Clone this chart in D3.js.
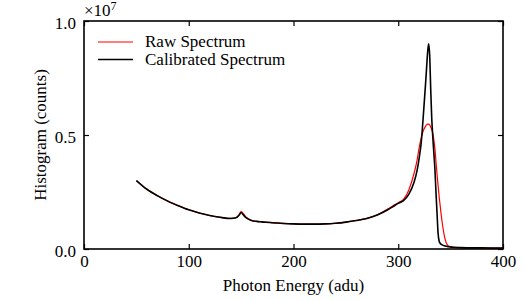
<!DOCTYPE html>
<html>
<head>
<meta charset="utf-8">
<script src="https://cdn.jsdelivr.net/npm/d3@7"></script>
<style>
  body { margin: 0; background: #fff; }
</style>
</head>
<body>
<svg id="chart" width="525" height="300"></svg>
<script>
// photon energy samples (adu)
const energies = [50, 60, 70, 80, 90, 100, 110, 120, 130, 140, 145, 148, 150, 152, 155, 160, 165, 170,
  180, 190, 200, 210, 220, 230, 240, 250, 260, 270, 280, 290, 295, 300, 305, 310, 315, 318, 320, 322,
  324, 326, 327, 328, 329, 330, 331, 332, 333, 334, 335, 336, 337, 338, 339, 340, 342, 344, 346, 348,
  352, 360, 370, 380, 390, 400];

// counts in units of 1e7
const rawCounts = [0.300, 0.262, 0.234, 0.210, 0.190, 0.172, 0.158, 0.147, 0.139, 0.134, 0.137, 0.150,
  0.164, 0.156, 0.138, 0.125, 0.121, 0.119, 0.115, 0.112, 0.110, 0.109, 0.109, 0.110, 0.113, 0.118,
  0.125, 0.134, 0.150, 0.175, 0.190, 0.203, 0.218, 0.258, 0.330, 0.390, 0.445, 0.490, 0.520, 0.538,
  0.544, 0.548, 0.548, 0.544, 0.535, 0.524, 0.508, 0.478, 0.440, 0.385, 0.330, 0.280, 0.232, 0.190,
  0.115, 0.058, 0.025, 0.013, 0.008, 0.006, 0.005, 0.005, 0.004, 0.004];

const calCounts = [0.300, 0.262, 0.234, 0.210, 0.190, 0.172, 0.158, 0.147, 0.139, 0.134, 0.137, 0.148,
  0.160, 0.150, 0.136, 0.125, 0.121, 0.119, 0.115, 0.112, 0.110, 0.109, 0.109, 0.110, 0.113, 0.118,
  0.125, 0.134, 0.149, 0.172, 0.186, 0.200, 0.212, 0.240, 0.292, 0.345, 0.400, 0.470, 0.590, 0.720,
  0.790, 0.860, 0.900, 0.850, 0.700, 0.570, 0.490, 0.420, 0.350, 0.250, 0.160, 0.070, 0.035, 0.025,
  0.018, 0.014, 0.012, 0.010, 0.008, 0.006, 0.005, 0.005, 0.004, 0.004];

const xTicks = [0, 100, 200, 300, 400];
const yTicks = [0.0, 0.5, 1.0];

const series = [
  { name: 'Raw Spectrum', values: rawCounts, color: '#ff0000', width: 1.2 },
  { name: 'Calibrated Spectrum', values: calCounts, color: '#000000', width: 1.6 }
];

const FONT = '"Liberation Serif", "Times New Roman", Times, serif';
const FONT_SIZE = '17px';

const Chart = {};

Chart.setup = {
  initConst: function() {
    Chart.margin = { left: 84, top: 21, right: 22, bottom: 51 };
    Chart.width = 525 - Chart.margin.left - Chart.margin.right;
    Chart.height = 300 - Chart.margin.top - Chart.margin.bottom;
  },

  initScales: function() {
    Chart.x = d3.scaleLinear().domain([0, 400]).range([0, Chart.width]);
    Chart.y = d3.scaleLinear().domain([0, 1]).range([Chart.height, 0]);
  }
};

Chart.core = {
  draw: function() {
    const svg = d3.select('#chart');
    const g = svg.append('g')
      .attr('transform', `translate(${Chart.margin.left},${Chart.margin.top})`);

    // lines
    series.forEach(function(s) {
      const line = d3.line()
        .x((d, i) => Chart.x(energies[i]))
        .y(d => Chart.y(d))
        .curve(d3.curveMonotoneX);
      g.append('path')
        .datum(s.values)
        .attr('fill', 'none')
        .attr('stroke', s.color)
        .attr('stroke-width', s.width)
        .attr('d', line);
    });

    // axes with inward ticks
    const tickLen = 5;
    const xBottom = d3.axisBottom(Chart.x).tickValues(xTicks).tickSizeInner(-tickLen).tickSizeOuter(0)
      .tickPadding(6).tickFormat(d3.format('d'));
    const xTop = d3.axisTop(Chart.x).tickValues(xTicks).tickSizeInner(-tickLen).tickSizeOuter(0)
      .tickFormat('');
    const yLeft = d3.axisLeft(Chart.y).tickValues(yTicks).tickSizeInner(-tickLen).tickSizeOuter(0)
      .tickPadding(8).tickFormat(d3.format('.1f'));
    const yRight = d3.axisRight(Chart.y).tickValues(yTicks).tickSizeInner(-tickLen).tickSizeOuter(0)
      .tickFormat('');

    const axes = [
      g.append('g').attr('transform', `translate(0,${Chart.height})`).call(xBottom),
      g.append('g').call(xTop),
      g.append('g').call(yLeft),
      g.append('g').attr('transform', `translate(${Chart.width},0)`).call(yRight)
    ];
    axes.forEach(function(a) {
      a.attr('font-family', FONT).attr('font-size', FONT_SIZE);
      a.select('.domain').remove();
      a.selectAll('line').attr('stroke', '#000').attr('stroke-width', 1.2);
      a.selectAll('text').attr('fill', '#000');
    });
    axes[2].selectAll('text').attr('dy', '0.45em');

    // frame
    g.append('rect')
      .attr('width', Chart.width)
      .attr('height', Chart.height)
      .attr('fill', 'none')
      .attr('stroke', '#000')
      .attr('stroke-width', 1.6);

    // multiplier
    const mult = svg.append('text')
      .attr('x', Chart.margin.left)
      .attr('y', 16)
      .attr('font-family', FONT)
      .attr('font-size', FONT_SIZE);
    mult.append('tspan').text('\u00d710');
    mult.append('tspan').attr('dy', -6).attr('font-size', '12px').text('7');

    // axis labels
    svg.append('text')
      .attr('x', Chart.margin.left + Chart.width / 2)
      .attr('y', 291)
      .attr('text-anchor', 'middle')
      .attr('font-family', FONT)
      .attr('font-size', FONT_SIZE)
      .text('Photon Energy (adu)');

    svg.append('text')
      .attr('transform', `translate(46,${Chart.margin.top + Chart.height / 2}) rotate(-90)`)
      .attr('text-anchor', 'middle')
      .attr('font-family', FONT)
      .attr('font-size', FONT_SIZE)
      .text('Histogram (counts)');

    // legend
    const legend = g.append('g').attr('transform', 'translate(14,21)');
    series.forEach(function(s, i) {
      const row = legend.append('g').attr('transform', `translate(0,${i * 17.5})`);
      row.append('line')
        .attr('x1', 0).attr('x2', 35)
        .attr('stroke', s.color)
        .attr('stroke-width', s.width);
      row.append('text')
        .attr('x', 47)
        .attr('dy', '0.32em')
        .attr('font-family', FONT)
        .attr('font-size', FONT_SIZE)
        .text(s.name);
    });
  }
};

Chart.setup.initConst();
Chart.setup.initScales();
Chart.core.draw();
</script>
</body>
</html>
